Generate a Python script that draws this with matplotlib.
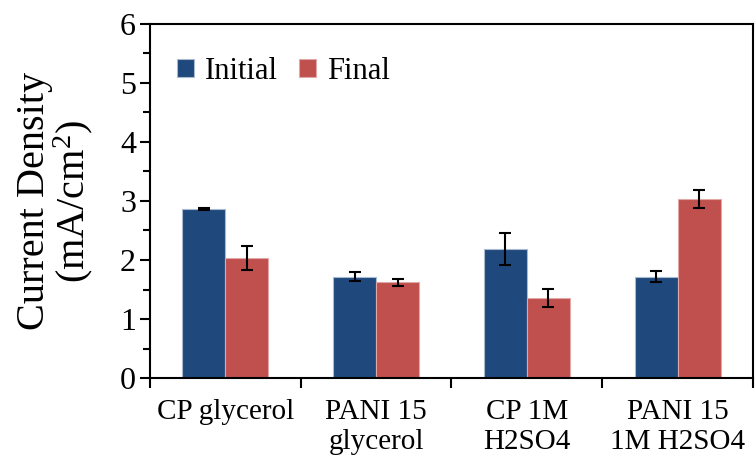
import numpy as np
import matplotlib.pyplot as plt

categories = ["CP glycerol", "PANI 15\nglycerol", "CP 1M\nH2SO4", "PANI 15\n1M H2SO4"]
initial = [2.86, 1.72, 2.18, 1.72]
initial_err = [0.02, 0.07, 0.27, 0.10]
final = [2.03, 1.62, 1.36, 3.03]
final_err = [0.20, 0.06, 0.15, 0.15]

plt.rcParams['font.family'] = ['Liberation Serif', 'DejaVu Serif']
plt.rcParams['mathtext.fontset'] = 'custom'
plt.rcParams['mathtext.rm'] = 'Liberation Serif'

fig = plt.figure(figsize=(7.56, 4.70), dpi=100)
ax = fig.add_axes([0.1984, 0.1957, 0.7976, 0.7533])

x = np.arange(len(categories))
w = 0.285
err_kw = dict(ecolor='black', elinewidth=1.5, capsize=4.5, capthick=1.5)
ax.bar(x - w / 2, initial, w, yerr=initial_err, color='#1F497D',
       edgecolor='#a9b9d0', linewidth=0.8, label='Initial', error_kw=err_kw)
ax.bar(x + w / 2, final, w, yerr=final_err, color='#C0504D',
       edgecolor='#e0a9a7', linewidth=0.8, label='Final', error_kw=err_kw)

ax.set_xlim(-0.5, len(categories) - 0.5)
ax.set_ylim(0, 6)
ax.set_yticks(np.arange(0, 7, 1))
ax.set_yticks(np.arange(0.5, 6, 1), minor=True)
ax.set_xticks(x)
ax.set_xticklabels(categories)
ax.set_xticks(np.arange(-0.5, len(categories), 1), minor=True)

ax.tick_params(axis='y', which='major', direction='out', length=7, width=1.5, labelsize=23, pad=3)
ax.tick_params(axis='y', which='minor', direction='out', length=5, width=1.5)
ax.tick_params(axis='x', which='major', length=0, labelsize=21, pad=15)
ax.tick_params(axis='x', which='minor', direction='out', length=7, width=1.5)
for s in ax.spines.values():
    s.set_linewidth(1.5)

ax.set_ylabel('Current Density\n(mA/cm$\\mathrm{^2}$)', fontsize=29, linespacing=0.95, labelpad=18)

ax.legend(loc='upper left', bbox_to_anchor=(0.0, 0.985), frameon=False, fontsize=22,
          handlelength=0.55, handleheight=0.55, handletextpad=0.35, columnspacing=0.7,
          ncol=2, borderaxespad=0.5)

fig.savefig('out.png', dpi=100)
